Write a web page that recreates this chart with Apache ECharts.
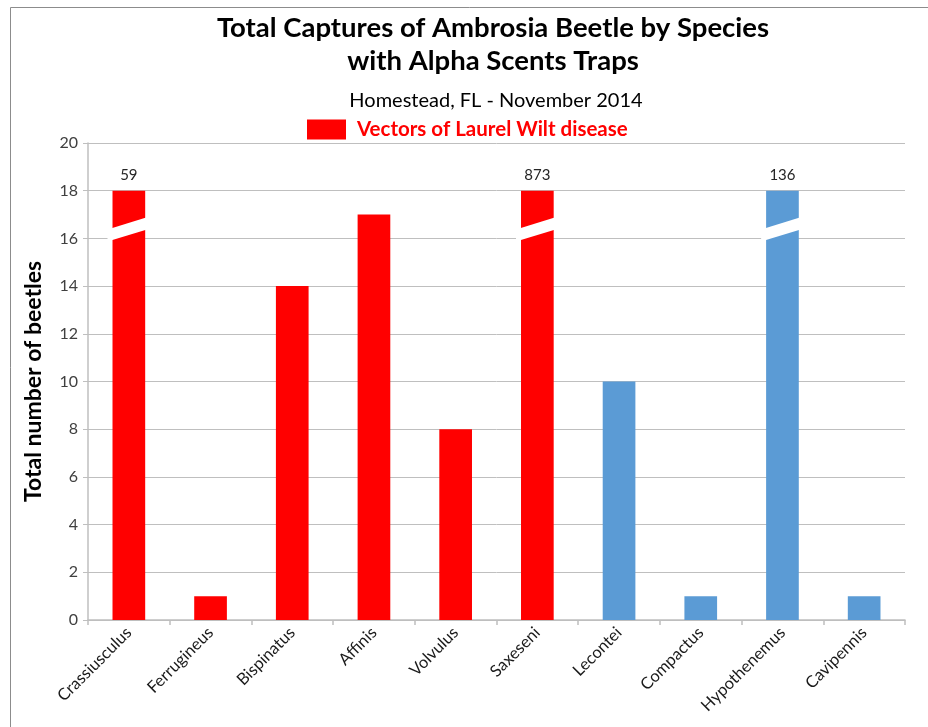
<!DOCTYPE html>
<html>
<head>
<meta charset="utf-8">
<script src="https://cdn.jsdelivr.net/npm/echarts@6/dist/echarts.min.js"></script>
<style>
  html, body { margin: 0; padding: 0; background: #fff; }
  #chart { width: 928px; height: 727px; }
</style>
</head>
<body>
<div id="chart"></div>
<script>
var species = ["Crassiusculus", "Ferrugineus", "Bispinatus", "Affinis", "Volvulus",
    "Saxeseni", "Lecontei", "Compactus", "Hypothenemus", "Cavipennis"];
// total captures
var captures = [59, 1, 14, 17, 8, 873, 10, 1, 136, 1];
// vectors of laurel wilt
var isVector = [true, true, true, true, true, true, false, false, false, false];
var yTicks = [0, 20, 2];
var capValue = 18;
// where the break stripe sits on a capped bar
var breakLow = [15.93, 16.35];
var breakHigh = [16.44, 16.86];

var vectorData = [], otherData = [], brokenData = [];
captures.forEach(function (v, i) {
    var shown = Math.min(v, capValue);
    vectorData.push(isVector[i] ? shown : "-");
    otherData.push(isVector[i] ? "-" : shown);
    if (v > capValue) brokenData.push([i, capValue]);
});

var chart = echarts.init(document.getElementById("chart"));
var font = "Lato, 'Open Sans', sans-serif";

function labelFmt(p) {
    var v = captures[p.dataIndex];
    return v > capValue ? String(v) : "";
}

var option = {
    animation: false,
    textStyle: { fontFamily: font },
    graphic: [{
        type: "rect",
        shape: { x: 10.5, y: 7.5, width: 930, height: 730 },
        style: { fill: "none", stroke: "#8c8c8c", lineWidth: 1 },
        silent: true
    }, {
        type: "text",
        style: {
            x: 493, y: 12,
            text: "Total Captures of Ambrosia Beetle by Species\nwith Alpha Scents Traps",
            align: "center", verticalAlign: "top", fontSize: 27.5, fontWeight: "bold",
            lineHeight: 33, fill: "#000", fontFamily: font
        }
    }, {
        type: "text",
        style: {
            x: 496, y: 101,
            text: "Homestead, FL - November 2014",
            align: "center", verticalAlign: "middle", fontSize: 20, fill: "#000", fontFamily: font
        }
    }],
    legend: {
        data: ["Vectors of Laurel Wilt disease"],
        left: 302, top: 114,
        itemWidth: 39, itemHeight: 20, itemGap: 8,
        icon: "rect",
        textStyle: { color: "#ff0000", fontSize: 20.5, fontWeight: "bold", fontFamily: font, padding: [0, 0, 0, 6] }
    },
    grid: { left: 88, right: 23, top: 143, bottom: 107 },
    xAxis: {
        type: "category",
        data: species,
        axisLine: { lineStyle: { color: "#bfbfbf", width: 1.5 } },
        axisTick: { show: true, length: 5, lineStyle: { color: "#bfbfbf", width: 1.5 } },
        axisLabel: { rotate: 45, fontSize: 16.5, color: "#1a1a1a", margin: 10, interval: 0 }
    },
    yAxis: {
        type: "value",
        min: yTicks[0], max: yTicks[1], interval: yTicks[2],
        name: "Total number of beetles",
        nameLocation: "middle",
        nameGap: 43,
        nameTextStyle: { fontSize: 23, fontWeight: "bold", color: "#000", fontFamily: font },
        axisLine: { show: true, lineStyle: { color: "#bfbfbf", width: 1.5 } },
        axisTick: { show: true, length: 5, lineStyle: { color: "#bfbfbf" } },
        axisLabel: { fontSize: 16, color: "#404040", margin: 10 },
        splitLine: { lineStyle: { color: "#bfbfbf", width: 1 } }
    },
    series: [{
        name: "Vectors of Laurel Wilt disease",
        type: "bar",
        stack: "all",
        barWidth: "40%",
        itemStyle: { color: "#ff0000" },
        label: { show: true, position: "top", distance: 8, fontSize: 15, color: "#262626", formatter: labelFmt },
        data: vectorData
    }, {
        name: "Other",
        type: "bar",
        stack: "all",
        barWidth: "40%",
        itemStyle: { color: "#5b9bd5" },
        label: { show: true, position: "top", distance: 8, fontSize: 15, color: "#262626", formatter: labelFmt },
        data: otherData
    }, {
        name: "break",
        type: "custom",
        data: brokenData,
        z: 10,
        renderItem: function (params, api) {
            var idx = api.value(0);
            var bw = api.size([1, 0])[0] * 0.4;
            var cx = api.coord([idx, 0])[0];
            var x0 = cx - bw / 2 - 5, x1 = cx + bw / 2 + 1;
            var yLowL = api.coord([idx, breakLow[0]])[1];
            var yLowR = api.coord([idx, breakLow[1]])[1];
            var yHighL = api.coord([idx, breakHigh[0]])[1];
            var yHighR = api.coord([idx, breakHigh[1]])[1];
            // extend the slant a bit to the left
            var slope = (yLowR - yLowL) / bw;
            var dl = -5 * slope, dr = 1 * slope;
            return {
                type: "polygon",
                shape: { points: [[x0, yHighL + dl], [x1, yHighR + dr], [x1, yLowR + dr], [x0, yLowL + dl]] },
                style: { fill: "#ffffff" }
            };
        }
    }]
};
chart.setOption(option);
</script>
</body>
</html>
